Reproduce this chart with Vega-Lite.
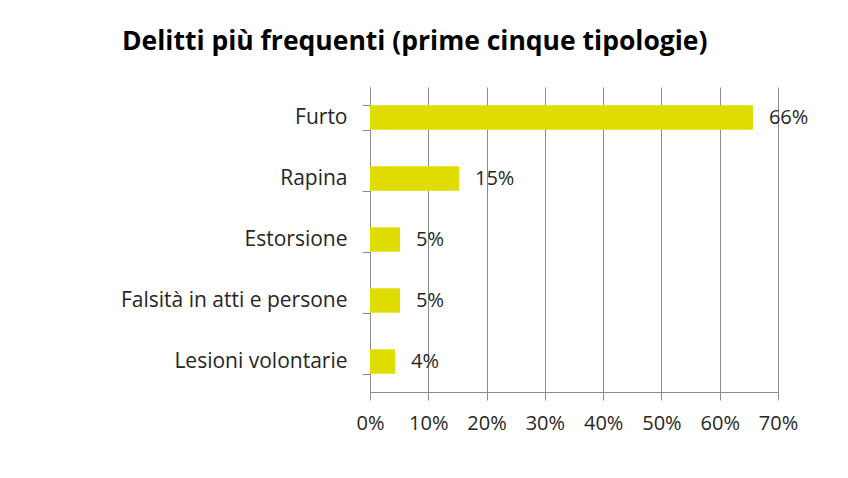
{
  "$schema": "https://vega.github.io/schema/vega-lite/v6.json",
  "width": 408,
  "height": 305,
  "autosize": "none",
  "padding": {"left": 370, "top": 87, "right": 70, "bottom": 86},
  "background": "white",
  "title": {
    "text": "Delitti più frequenti (prime cinque tipologie)",
    "anchor": "start",
    "frame": "group",
    "dx": -248,
    "offset": 21,
    "font": "Open Sans",
    "fontSize": 26.5,
    "fontWeight": "bold",
    "color": "#000000"
  },
  "config": {"view": {"stroke": null}},
  "data": {
    "values": [
      {"tipologia": "Furto", "quota": 0.657},
      {"tipologia": "Rapina", "quota": 0.1527},
      {"tipologia": "Estorsione", "quota": 0.0515},
      {"tipologia": "Falsità in atti e persone", "quota": 0.0515},
      {"tipologia": "Lesioni volontarie", "quota": 0.0429}
    ]
  },
  "encoding": {
    "y": {
      "field": "tipologia",
      "type": "nominal",
      "sort": null,
      "scale": {"paddingInner": 0.6, "paddingOuter": 0.3},
      "axis": {
        "title": null,
        "tickBand": "extent",
        "tickSize": 8,
        "tickColor": "#8c8c8c",
        "domainColor": "#8c8c8c",
        "labelFont": "Open Sans",
        "labelFontSize": 21,
        "labelColor": "#262626",
        "labelPadding": 15,
        "labelLimit": 300,
        "grid": false
      }
    },
    "x": {
      "field": "quota",
      "type": "quantitative",
      "scale": {"domain": [0, 0.7]},
      "axis": {
        "title": null,
        "format": ".0%",
        "values": [0, 0.1, 0.2, 0.3, 0.4, 0.5, 0.6, 0.7],
        "grid": true,
        "gridColor": "#8c8c8c",
        "gridOpacity": 1,
        "tickColor": "#8c8c8c",
        "tickSize": 8,
        "domainColor": "#8c8c8c",
        "labelFont": "Open Sans",
        "labelFontSize": 20,
        "labelColor": "#262626",
        "labelPadding": 13,
        "labelFlush": false,
        "labelOverlap": false
      }
    }
  },
  "layer": [
    {"mark": {"type": "bar", "color": "#E0DC00"}},
    {
      "mark": {"type": "text", "align": "left", "baseline": "middle", "dx": 16, "font": "Open Sans", "fontSize": 20, "color": "#262626"},
      "encoding": {"text": {"field": "quota", "type": "quantitative", "format": ".0%"}}
    }
  ]
}
